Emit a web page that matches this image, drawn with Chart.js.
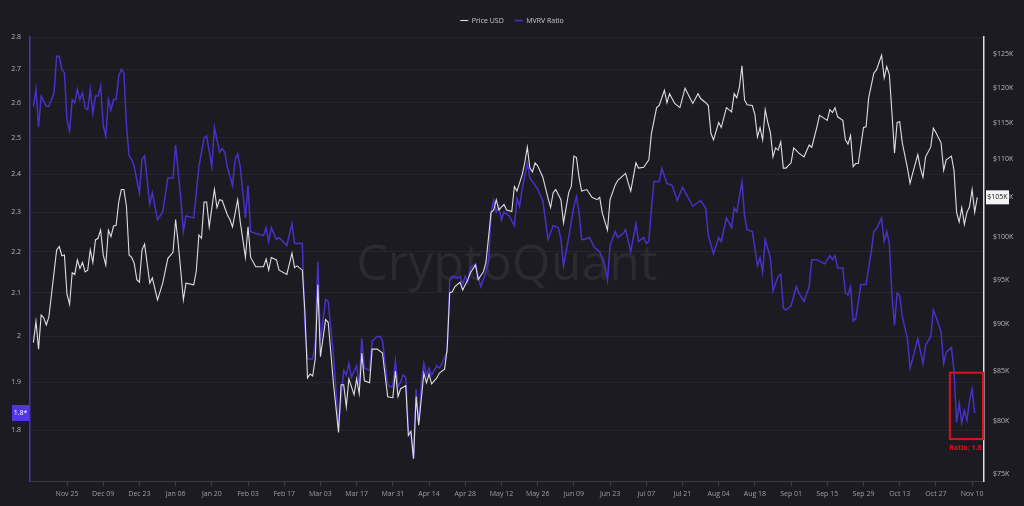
<!DOCTYPE html>
<html>
<head>
<meta charset="utf-8">
<script src="https://cdn.jsdelivr.net/npm/chart.js@4.4.1/dist/chart.umd.min.js"></script>
<style>
  html, body { margin: 0; padding: 0; background: #1b1b21; }
  canvas { display: block; }
</style>
</head>
<body>
<canvas id="canvas" width="1024" height="506"></canvas>
<script>
// days counted from 2024-11-11
var priceDays = [1,2,3,4,5,6,7,8,10,11,12,13,14,15,16,17,18,19,20,21,22,23,24,25,26,27,28,29,30,31,32,33,34,35,36,37,38,39,40,41,42,43,44,46,47,49,51,53,55,56,57,58,59,60,63,64,65,66,67,68,69,71,72,73,74,76,77,78,80,81,83,84,85,87,90,91,92,93,95,96,99,101,102,103,105,106,107,108,109,110,111,112,114,115,116,117,119,120,121,122,123,125,126,127,128,129,131,132,134,136,138,140,141,142,143,145,146,147,148,149,150,152,153,154,155,157,158,160,161,162,163,164,166,167,168,169,170,172,173,175,176,178,179,180,181,183,184,186,187,188,190,191,192,193,194,195,196,198,200,201,202,203,205,206,208,209,210,211,212,213,215,217,219,220,221,223,224,226,227,230,231,232,234,235,237,239,240,242,243,245,246,247,249,251,253,255,256,258,259,261,262,263,264,266,267,269,271,272,273,274,275,276,277,279,280,281,282,283,284,285,286,287,288,289,290,291,292,294,295,297,299,301,302,304,305,308,309,310,311,312,314,315,316,317,318,319,320,322,323,324,326,327,329,330,331,332,333,334,335,336,337,339,340,341,343,344,345,346,348,349,350,352,353,354,356,357,358,359,360,361,362,363,364,365,366];
// price in thousand USD
var priceK = [88.0,90.3,87.3,91.0,90.7,89.9,90.8,93.3,98.5,98.9,97.8,97.9,93.3,92.2,95.8,95.6,97.3,96.3,97.0,95.9,96.1,98.5,97.0,99.7,99.9,100.9,97.9,96.7,100.9,100.1,101.4,101.5,104.4,106.0,106.0,103.8,97.9,97.6,96.9,95.0,94.7,98.5,99.2,94.6,95.2,92.7,94.6,97.5,98.2,102.2,99.3,96.0,92.7,94.6,94.4,96.0,100.3,99.9,104.4,104.4,101.3,106.0,103.7,104.7,104.6,102.8,102.2,101.3,104.7,101.9,97.6,101.3,97.6,96.5,96.5,97.4,96.1,97.6,97.3,96.1,95.6,98.1,96.4,96.6,96.1,91.3,84.3,84.7,84.5,86.3,94.4,86.5,90.5,90.2,87.0,83.8,78.9,83.6,83.6,81.4,84.2,82.6,84.2,82.7,86.9,84.0,83.8,87.3,87.3,86.9,82.4,82.3,85.0,82.4,83.2,83.5,78.6,79.0,76.4,82.4,79.6,84.8,83.8,84.7,83.7,84.3,84.8,85.2,87.3,93.5,93.6,94.2,94.7,93.8,94.4,95.0,95.8,96.7,95.0,95.9,97.0,103.1,103.4,104.7,103.4,104.1,103.4,103.2,106.4,105.8,107.9,109.5,111.6,108.8,108.3,109.5,109.1,107.6,104.9,103.7,105.6,106.0,104.7,101.8,105.6,106.4,110.4,110.2,107.6,105.8,106.0,105.0,104.7,105.0,103.0,100.9,104.7,106.6,107.2,108.1,106.9,105.8,109.5,108.8,108.9,109.9,113.5,117.1,117.4,119.6,117.8,119.1,117.7,117.1,119.9,118.4,117.7,119.1,118.4,117.8,117.4,113.5,112.6,115.0,114.3,117.1,116.5,119.1,118.5,120.0,123.2,118.2,117.5,117.4,116.1,113.0,114.3,112.6,116.8,115.0,113.6,110.3,111.5,111.2,112.3,108.8,108.8,109.5,111.5,110.8,110.3,111.9,111.6,114.4,116.0,115.3,116.8,116.4,117.1,115.8,115.3,112.6,112.0,113.2,109.0,109.4,109.4,114.3,114.4,118.5,122.1,122.6,124.8,121.4,123.1,121.9,116.4,110.8,115.0,115.1,112.2,108.8,106.8,108.1,110.6,108.8,107.6,110.3,111.6,114.2,113.6,112.2,108.5,109.9,110.4,108.5,103.1,101.9,103.7,101.6,103.1,103.8,106.0,103.1,105.0];

var mvrvDays = [1,2,3,4,6,7,9,10,11,12,13,14,15,16,17,18,19,20,21,22,23,24,25,26,27,28,29,30,31,32,33,34,35,36,37,38,39,40,42,43,44,46,47,49,51,53,55,56,58,59,60,63,65,67,68,70,71,73,74,75,76,78,79,80,81,83,84,85,87,90,91,92,93,95,96,99,101,102,105,106,107,109,110,111,112,114,115,116,117,119,121,122,123,124,126,127,128,129,131,132,134,135,136,138,139,140,141,142,143,144,145,146,147,148,149,150,151,152,153,154,155,157,158,159,161,162,163,165,166,167,168,169,170,172,173,174,176,177,178,179,180,181,182,183,185,187,188,189,190,192,193,195,196,198,200,202,204,205,206,208,210,211,212,213,214,216,218,220,222,223,224,226,227,229,230,232,234,235,237,238,239,240,241,243,244,246,248,250,252,254,256,259,261,262,264,266,267,269,271,272,273,275,276,277,279,280,281,282,283,284,286,287,289,290,291,292,294,296,297,299,301,302,304,307,309,310,311,312,314,315,316,317,318,319,321,323,325,326,327,329,330,331,332,333,334,335,336,337,339,340,341,343,345,346,348,349,350,352,353,354,356,357,358,359,360,361,362,363,364,365];
var mvrvVals = [2.59,2.64,2.53,2.62,2.59,2.59,2.63,2.74,2.74,2.70,2.69,2.55,2.52,2.61,2.60,2.64,2.61,2.63,2.585,2.58,2.64,2.57,2.62,2.62,2.65,2.535,2.505,2.61,2.58,2.61,2.61,2.68,2.70,2.69,2.535,2.45,2.44,2.42,2.35,2.44,2.45,2.32,2.35,2.28,2.30,2.39,2.39,2.48,2.335,2.25,2.29,2.285,2.42,2.50,2.505,2.42,2.53,2.46,2.47,2.46,2.42,2.37,2.44,2.455,2.42,2.285,2.37,2.25,2.245,2.24,2.26,2.225,2.26,2.23,2.235,2.215,2.27,2.22,2.22,2.02,1.95,1.95,1.985,2.175,1.99,2.085,2.08,2.02,1.96,1.81,1.925,1.915,1.94,1.91,1.935,1.895,1.995,1.93,1.925,1.99,2.00,2.00,1.99,1.895,1.89,1.89,1.945,1.89,1.90,1.915,1.91,1.80,1.79,1.745,1.885,1.815,1.895,1.94,1.915,1.93,1.915,1.935,1.93,1.94,1.965,2.13,2.14,2.135,2.14,2.12,2.14,2.125,2.16,2.17,2.14,2.115,2.15,2.175,2.30,2.33,2.30,2.315,2.28,2.30,2.29,2.265,2.335,2.315,2.36,2.43,2.39,2.37,2.36,2.33,2.23,2.265,2.26,2.23,2.165,2.235,2.315,2.34,2.30,2.23,2.23,2.235,2.21,2.20,2.165,2.13,2.215,2.25,2.235,2.245,2.255,2.20,2.27,2.225,2.235,2.22,2.225,2.31,2.38,2.38,2.415,2.375,2.37,2.33,2.365,2.34,2.315,2.33,2.31,2.24,2.195,2.235,2.225,2.285,2.26,2.31,2.30,2.38,2.29,2.255,2.25,2.21,2.165,2.185,2.15,2.23,2.185,2.105,2.14,2.145,2.065,2.06,2.07,2.115,2.10,2.08,2.115,2.18,2.18,2.17,2.19,2.18,2.19,2.16,2.16,2.10,2.095,2.115,2.035,2.04,2.12,2.12,2.20,2.25,2.257,2.285,2.225,2.25,2.22,2.095,2.025,2.10,2.095,2.045,1.995,1.93,1.95,1.995,1.94,1.98,2.00,2.06,2.045,2.01,1.94,1.965,1.975,1.925,1.815,1.855,1.815,1.84,1.82,1.86,1.885,1.835];

var xTickDays = [14,28,42,56,70,84,98,112,126,140,154,168,182,196,210,224,238,252,266,280,294,308,322,336,350,364];
var xTickLabels = ['Nov 25','Dec 09','Dec 23','Jan 06','Jan 20','Feb 03','Feb 17','Mar 03','Mar 17','Mar 31','Apr 14','Apr 28','May 12','May 26','Jun 09','Jun 23','Jul 07','Jul 21','Aug 04','Aug 18','Sep 01','Sep 15','Sep 29','Oct 13','Oct 27','Nov 10'];
var mvrvTicks = [1.8,1.9,2,2.1,2.2,2.3,2.4,2.5,2.6,2.7,2.8];
var priceTicks = [75,80,85,90,95,100,105,110,115,120,125];

var mvrvTag = '1.8*';
var priceTag = '$105K';
var note = { fromDay: 355.4, toDay: 368.2, high: 1.92, low: 1.782, text: 'Ratio: 1.8' };

var PURPLE = '#4831c8';
var WHITE = '#dedee2';
var FONT = '"Open Sans", "Noto Sans", sans-serif';

function pts(days, vals) {
	return days.map(function(d, i) { return { x: d, y: vals[i] }; });
}

var overlay = {
	id: 'overlay',
	afterLayout: function(chart) {
		// legend sits a little higher than its box
		var lg = chart.legend;
		if (lg) { lg.top -= 3; lg.bottom -= 3; }
	},
	beforeDatasetsDraw: function(chart) {
		var ctx = chart.ctx, a = chart.chartArea;
		ctx.save();
		ctx.fillStyle = '#2a2a31';
		ctx.font = '50px ' + FONT;
		ctx.textAlign = 'center';
		ctx.textBaseline = 'middle';
		ctx.fillText('CryptoQuant', (a.left + a.right) / 2, 266);
		ctx.restore();
	},
	afterDraw: function(chart) {
		var ctx = chart.ctx, a = chart.chartArea, s = chart.scales;
		ctx.save();
		// red box round the last days
		var x1 = s.x.getPixelForValue(note.fromDay), x2 = s.x.getPixelForValue(note.toDay);
		var y1 = s.yMvrv.getPixelForValue(note.high), y2 = s.yMvrv.getPixelForValue(note.low);
		ctx.strokeStyle = '#e0101c';
		ctx.lineWidth = 2;
		ctx.strokeRect(x1, y1, x2 - x1, y2 - y1);
		ctx.fillStyle = '#e0101c';
		ctx.font = 'bold 7px ' + FONT;
		ctx.textAlign = 'center';
		ctx.textBaseline = 'top';
		ctx.fillText(note.text, (x1 + x2) / 2 - 1, y2 + 5);

		// current value tags
		var ym = s.yMvrv.getPixelForValue(mvrvVals[mvrvVals.length - 1]);
		ctx.fillStyle = '#5434e8';
		ctx.fillRect(a.left - 18, ym - 8, 17, 16);
		ctx.fillStyle = '#ffffff';
		ctx.font = '7px ' + FONT;
		ctx.textBaseline = 'middle';
		ctx.fillText(mvrvTag, a.left - 9.5, ym);

		var yp = s.yPrice.getPixelForValue(priceK[priceK.length - 1]);
		ctx.fillStyle = '#f4f4f4';
		ctx.fillRect(a.right + 2, yp - 7, 23, 14);
		ctx.fillStyle = '#1b1b21';
		ctx.fillText(priceTag, a.right + 13.5, yp);
		ctx.restore();
	}
};

var config = {
	type: 'line',
	data: {
		datasets: [{
			label: 'Price USD',
			data: pts(priceDays, priceK),
			yAxisID: 'yPrice',
			borderColor: WHITE,
			backgroundColor: WHITE,
			borderWidth: 1.1,
			pointRadius: 0,
			tension: 0
		}, {
			label: 'MVRV Ratio',
			data: pts(mvrvDays, mvrvVals),
			yAxisID: 'yMvrv',
			borderColor: PURPLE,
			backgroundColor: PURPLE,
			borderWidth: 1.5,
			pointRadius: 0,
			tension: 0
		}]
	},
	options: {
		responsive: false,
		devicePixelRatio: 1,
		animation: false,
		layout: { padding: { top: 9, left: 0, right: 0, bottom: 0 } },
		plugins: {
			legend: {
				position: 'top',
				labels: {
					color: '#c9c9ce',
					font: { size: 7, family: FONT },
					usePointStyle: true,
					pointStyle: 'line',
					pointStyleWidth: 8,
					padding: 11
				}
			},
			tooltip: { enabled: false }
		},
		scales: {
			x: {
				type: 'linear',
				min: -0.31,
				max: 368.6,
				afterBuildTicks: function(sc) {
					sc.ticks = xTickDays.map(function(v) { return { value: v }; });
				},
				afterFit: function(sc) { sc.height = 25; },
				ticks: {
					autoSkip: false,
					maxRotation: 0,
					color: '#9d9da6',
					font: { size: 7, family: FONT },
					padding: 4,
					callback: function(v) {
						var i = xTickDays.indexOf(v);
						return i < 0 ? '' : xTickLabels[i];
					}
				},
				grid: { drawOnChartArea: false, drawTicks: true, tickLength: 5, color: '#3c3c44' },
				border: { display: true, color: '#3c3c44', width: 1 }
			},
			yMvrv: {
				type: 'logarithmic',
				position: 'left',
				min: 1.7,
				max: 2.8,
				afterBuildTicks: function(sc) {
					sc.ticks = mvrvTicks.map(function(v) { return { value: v }; });
				},
				afterFit: function(sc) { sc.width = 30; },
				ticks: {
					color: '#b4b4bb',
					font: { size: 7, family: FONT },
					padding: 9,
					callback: function(v) { return v === 2 ? '2' : Number(v).toFixed(1); }
				},
				grid: { drawTicks: false, color: '#25252c', lineWidth: 1 },
				border: { display: true, color: PURPLE, width: 1.5 }
			},
			yPrice: {
				type: 'logarithmic',
				position: 'right',
				min: 74.37,
				max: 127.6,
				afterBuildTicks: function(sc) {
					sc.ticks = priceTicks.map(function(v) { return { value: v }; });
				},
				afterFit: function(sc) { sc.width = 40; },
				ticks: {
					color: '#b4b4bb',
					font: { size: 7, family: FONT },
					padding: 9,
					callback: function(v) { return '$' + v + 'K'; }
				},
				grid: { drawOnChartArea: false, drawTicks: false },
				border: { display: true, color: WHITE, width: 1.5 }
			}
		}
	},
	plugins: [overlay]
};

window.onload = function() {
	var ctx = document.getElementById('canvas').getContext('2d');
	window.myLine = new Chart(ctx, config);
};
</script>
</body>
</html>
